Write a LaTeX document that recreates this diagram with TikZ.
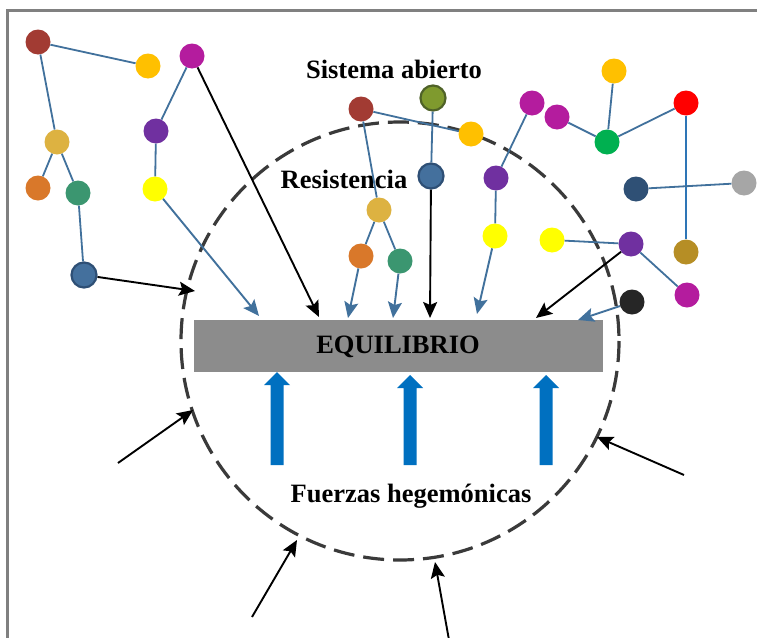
\documentclass[tikz,border=0pt]{standalone}
\usepackage{fontspec}
\setmainfont{Liberation Serif}
\usetikzlibrary{arrows.meta}

\definecolor{cRedBrown}{HTML}{A23B33}
\definecolor{cGold}{HTML}{FFC000}
\definecolor{cSand}{HTML}{DDB241}
\definecolor{cOrange}{HTML}{D9782A}
\definecolor{cTeal}{HTML}{3B9670}
\definecolor{cSteel}{HTML}{44709D}
\definecolor{cSteelDark}{HTML}{2E4F75}
\definecolor{cMagenta}{HTML}{B41C9E}
\definecolor{cPurple}{HTML}{7030A0}
\definecolor{cYellow}{HTML}{FFFF00}
\definecolor{cOlive}{HTML}{7F9A2E}
\definecolor{cOliveDark}{HTML}{4F6228}
\definecolor{cGreen}{HTML}{00B050}
\definecolor{cRed}{HTML}{FF0000}
\definecolor{cNavy}{HTML}{2F5075}
\definecolor{cGray}{HTML}{A6A6A6}
\definecolor{cDarkGold}{HTML}{B68E25}
\definecolor{cBlack}{HTML}{262626}
\definecolor{cEdge}{HTML}{41719C}
\definecolor{cEdgeBright}{HTML}{2E75B6}
\definecolor{cPush}{HTML}{0070C0}
\definecolor{cBar}{HTML}{8C8C8C}
\definecolor{cFrame}{HTML}{808080}
\definecolor{cRing}{HTML}{3A3A3A}

\tikzset{
  dot/.style={circle, minimum size=25pt, inner sep=0pt, draw=none},
  dotrim/.style={circle, minimum size=25pt, inner sep=0pt, line width=2.2pt},
  link/.style={draw=cEdge, line width=1.8pt},
  bluearrow/.style={draw=cEdge, line width=1.9pt,
    -{Stealth[length=16pt,width=14pt,inset=3pt]}},
  blackarrow/.style={draw=black, line width=1.9pt,
    -{Stealth[length=16pt,width=14pt,inset=3pt]}},
  label/.style={font=\bfseries\fontsize{26.5}{31}\selectfont, inner sep=0pt},
  push/.style={fill=cPush, draw=none}
}

\begin{document}
\begin{tikzpicture}[x=1pt, y=-1pt]
\useasboundingbox (0,0) rectangle (757,637);
\fill[white] (0,0) rectangle (757,637);

% outer frame (top and left edges)
\draw[cFrame, line width=3pt] (7.7,645) -- (7.7,10.5) -- (765,10.5);

% open-system boundary
\draw[cRing, line width=3.2pt, dash pattern=on 21pt off 9pt] (400,341) circle [radius=219];

% equilibrium bar
\node[fill=cBar, minimum width=409pt, minimum height=52pt, inner sep=0pt, anchor=north west] (bar) at (194,320) {};
\node[label] (eq) at (398,347) {EQUILIBRIO};

% hegemonic forces pushing up
\foreach \px/\tip in {277/372, 410/375, 546/375} {
  \fill[push] (\px-6.5,465) -- (\px-6.5,\tip+13) -- (\px-13,\tip+13) -- (\px,\tip)
    -- (\px+13,\tip+13) -- (\px+6.5,\tip+13) -- (\px+6.5,465) -- cycle;
}

% texts
\node[label] (sist) at (394,69) {Sistema abierto};
\node[label] (resi) at (344,179) {Resistencia};
\node[label] (fuer) at (411,496) {Fuerzas hegemónicas};

% element nodes
\node[dot, fill=cRedBrown] (a1) at (38,42) {};
\node[dot, fill=cGold] (a2) at (148,66) {};
\node[dot, fill=cSand] (a3) at (57,142) {};
\node[dot, fill=cOrange] (a4) at (38,188) {};
\node[dot, fill=cTeal] (a5) at (78,193) {};
\node[dotrim, fill=cSteel, draw=cSteelDark] (a6) at (84,275) {};

\node[dot, fill=cMagenta] (b1) at (192,56) {};
\node[dot, fill=cPurple] (b2) at (156,131) {};
\node[dot, fill=cYellow] (b3) at (155,189) {};

\node[dot, fill=cRedBrown] (c1) at (361,109) {};
\node[dotrim, fill=cOlive, draw=cOliveDark] (c2) at (433,98) {};
\node[dot, fill=cGold] (c3) at (471,134) {};
\node[dotrim, fill=cSteel, draw=cSteelDark] (c4) at (431,176) {};
\node[dot, fill=cSand] (c5) at (379,210) {};
\node[dot, fill=cOrange] (c6) at (361,256) {};
\node[dot, fill=cTeal] (c7) at (400,261) {};
\node[dot, fill=cPurple] (c8) at (496,178) {};
\node[dot, fill=cYellow] (c9) at (495,236) {};

\node[dot, fill=cMagenta] (d1) at (532,103) {};
\node[dot, fill=cMagenta] (d2) at (557,117) {};
\node[dot, fill=cGreen] (d3) at (607,142) {};
\node[dot, fill=cGold] (d4) at (614,71) {};
\node[dot, fill=cRed] (d5) at (686,103) {};
\node[dot, fill=cNavy] (d6) at (636,189) {};
\node[dot, fill=cGray] (d7) at (744,183) {};
\node[dot, fill=cDarkGold] (d8) at (686,252) {};
\node[dot, fill=cYellow] (d9) at (552,240) {};
\node[dot, fill=cPurple] (d10) at (631,244) {};
\node[dot, fill=cMagenta] (d11) at (687,295) {};
\node[dot, fill=cBlack] (d12) at (632,302) {};

% arrow end points
\coordinate (t1) at (195,291);
\coordinate (t2) at (319,317);
\coordinate (t3) at (259,316);
\coordinate (t4) at (348,318);
\coordinate (t5) at (393,318);
\coordinate (t6) at (430,318);
\coordinate (t7) at (477,314);
\coordinate (t8) at (536,318);
\coordinate (t9) at (578,320);
\coordinate (s1) at (118,463);
\coordinate (e1) at (193,410);
\coordinate (s2) at (252,617);
\coordinate (e2) at (297,540);
\coordinate (s3) at (449,640);
\coordinate (e3) at (435,562);
\coordinate (s4) at (684,475);
\coordinate (e4) at (597,437);

% links
\draw[link] (a1) -- (a2);
\draw[link] (a1) -- (a3);
\draw[link] (a3) -- (a4);
\draw[link] (a3) -- (a5);
\draw[link] (a5) -- (a6);
\draw[link] (b1) -- (b2);
\draw[link] (b2) -- (b3);
\draw[link] (c1) -- (c3);
\draw[link] (c1) -- (c5);
\draw[link] (c5) -- (c6);
\draw[link] (c5) -- (c7);
\draw[link] (c2) -- (c4);
\draw[link] (c8) -- (c9);
\draw[link] (c8) -- (d1);
\draw[link] (d2) -- (d3);
\draw[link] (d3) -- (d4);
\draw[link] (d3) -- (d5);
\draw[link, draw=cEdgeBright] (d5) -- (d8);
\draw[link] (d6) -- (d7);
\draw[link] (d9) -- (d10);
\draw[link] (d10) -- (d11);

% flows towards equilibrium
\draw[blackarrow] (a6) -- (t1);
\draw[blackarrow] (b1) -- (t2);
\draw[bluearrow] (b3) -- (t3);
\draw[bluearrow] (c6) -- (t4);
\draw[bluearrow] (c7) -- (t5);
\draw[blackarrow] (c4) -- (t6);
\draw[bluearrow] (c9) -- (t7);
\draw[blackarrow] (d10) -- (t8);
\draw[bluearrow] (d12) -- (t9);

% pressures from the environment
\draw[blackarrow] (s1) -- (e1);
\draw[blackarrow] (s2) -- (e2);
\draw[blackarrow] (s3) -- (e3);
\draw[blackarrow] (s4) -- (e4);
\end{tikzpicture}
\end{document}
